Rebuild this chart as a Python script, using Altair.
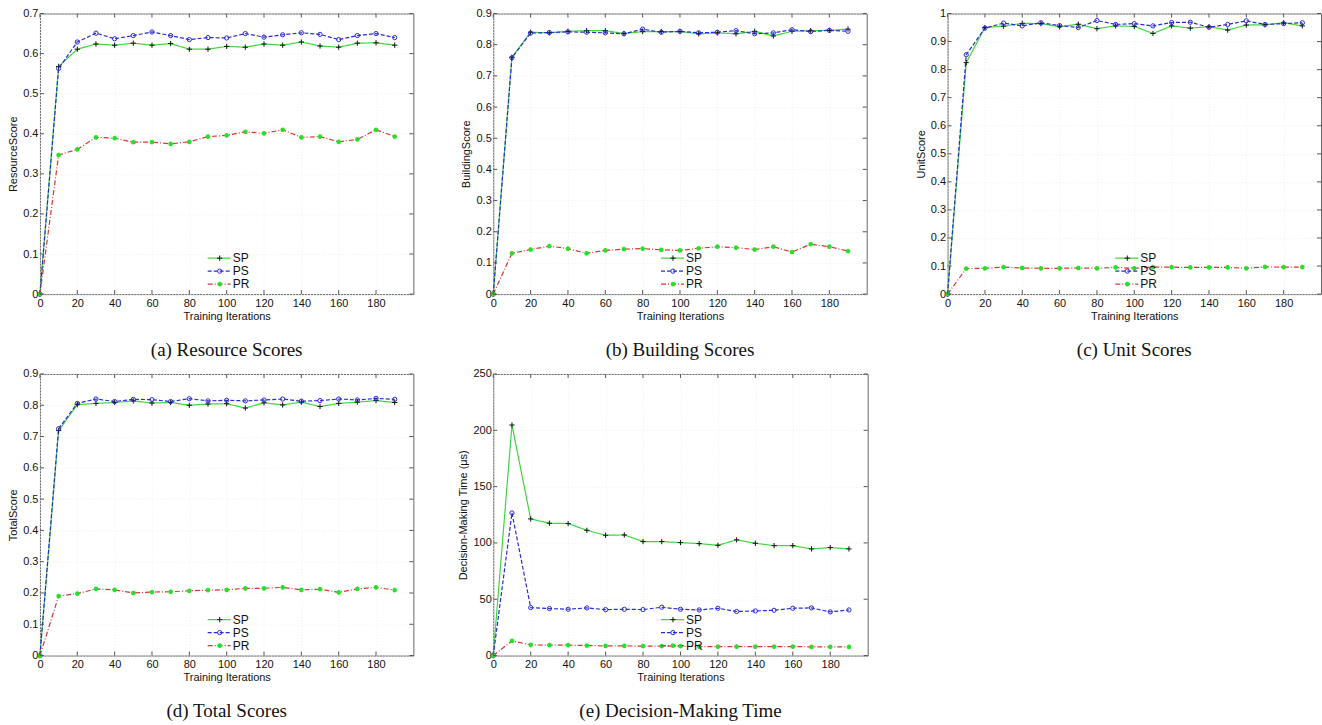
import altair as alt
import pandas as pd

iters = list(range(0, 200, 10))
x_ticks = list(range(0, 200, 20))

a_sp = [0, 0.568, 0.611, 0.624, 0.621, 0.626, 0.621, 0.625, 0.611, 0.611, 0.618, 0.616, 0.624, 0.621, 0.629, 0.619, 0.616, 0.626, 0.627, 0.621]
a_ps = [0, 0.563, 0.629, 0.651, 0.637, 0.645, 0.654, 0.645, 0.635, 0.640, 0.639, 0.650, 0.641, 0.647, 0.652, 0.648, 0.635, 0.645, 0.650, 0.640]
a_pr = [0, 0.347, 0.361, 0.391, 0.389, 0.379, 0.379, 0.375, 0.380, 0.393, 0.396, 0.405, 0.401, 0.410, 0.391, 0.393, 0.380, 0.386, 0.410, 0.393]

b_sp = [0, 0.760, 0.840, 0.838, 0.843, 0.845, 0.845, 0.836, 0.842, 0.842, 0.842, 0.835, 0.838, 0.835, 0.843, 0.828, 0.843, 0.845, 0.846, 0.850]
b_ps = [0, 0.758, 0.837, 0.839, 0.841, 0.840, 0.838, 0.835, 0.850, 0.840, 0.843, 0.838, 0.840, 0.845, 0.835, 0.838, 0.848, 0.842, 0.846, 0.843]
b_pr = [0, 0.131, 0.143, 0.154, 0.146, 0.131, 0.140, 0.144, 0.146, 0.142, 0.140, 0.147, 0.152, 0.149, 0.143, 0.152, 0.135, 0.160, 0.152, 0.138]

c_sp = [0, 0.825, 0.950, 0.955, 0.965, 0.964, 0.953, 0.962, 0.946, 0.956, 0.954, 0.929, 0.956, 0.948, 0.953, 0.941, 0.959, 0.960, 0.967, 0.956]
c_ps = [0, 0.853, 0.948, 0.966, 0.956, 0.967, 0.957, 0.950, 0.975, 0.961, 0.964, 0.956, 0.968, 0.969, 0.951, 0.961, 0.974, 0.961, 0.964, 0.967]
c_pr = [0, 0.091, 0.092, 0.096, 0.093, 0.092, 0.092, 0.093, 0.092, 0.095, 0.092, 0.096, 0.096, 0.095, 0.095, 0.095, 0.092, 0.097, 0.096, 0.096]

d_sp = [0, 0.719, 0.802, 0.806, 0.809, 0.814, 0.807, 0.809, 0.800, 0.804, 0.805, 0.791, 0.808, 0.801, 0.810, 0.796, 0.806, 0.810, 0.815, 0.809]
d_ps = [0, 0.725, 0.806, 0.820, 0.812, 0.819, 0.818, 0.812, 0.821, 0.814, 0.816, 0.814, 0.817, 0.820, 0.813, 0.815, 0.820, 0.817, 0.822, 0.819]
d_pr = [0, 0.190, 0.198, 0.213, 0.210, 0.200, 0.203, 0.204, 0.207, 0.209, 0.210, 0.215, 0.215, 0.218, 0.210, 0.212, 0.202, 0.213, 0.218, 0.209]

e_sp = [0, 204.7, 121.3, 117.5, 117.2, 111.2, 106.8, 107.1, 101.2, 101.2, 100.3, 99.4, 97.9, 102.7, 99.7, 97.6, 97.6, 94.7, 95.9, 94.7]
e_ps = [0, 126.6, 42.6, 41.7, 41.1, 42.3, 40.8, 41.1, 40.8, 42.9, 41.1, 40.5, 42.0, 39.1, 39.6, 40.2, 42.0, 42.3, 38.8, 40.5]
e_pr = [0, 13.0, 9.5, 9.2, 9.2, 8.9, 8.6, 8.6, 8.3, 8.3, 8.3, 8.0, 8.0, 8.0, 8.0, 8.0, 8.0, 7.7, 7.7, 7.7]

series_names = ["SP", "PS", "PR"]
score_ticks_07 = [0, 0.1, 0.2, 0.3, 0.4, 0.5, 0.6, 0.7]
score_ticks_09 = [0, 0.1, 0.2, 0.3, 0.4, 0.5, 0.6, 0.7, 0.8, 0.9]
score_ticks_10 = [0, 0.1, 0.2, 0.3, 0.4, 0.5, 0.6, 0.7, 0.8, 0.9, 1]
time_ticks = [0, 50, 100, 150, 200, 250]

LINE_COLOR = {"SP": "#3fd63f", "PS": "#2b2bd6", "PR": "#d93636"}
DASH = {"SP": [1, 0], "PS": [4, 2], "PR": [5, 2, 1, 2]}
PLUS = "M-1,0L1,0M0,-1L0,1"
STAR = "M-1,0L1,0M0,-1L0,1M-0.7,-0.7L0.7,0.7M-0.7,0.7L0.7,-0.7"
MARKER = {
    "SP": dict(shape=PLUS, color="#111111", size=28, strokeWidth=1),
    "PS": dict(shape="circle", color="#2b2bd6", size=18, strokeWidth=1),
    "PR": dict(shape=STAR, color="#25e025", size=22, strokeWidth=1.4),
}
FONT = "Liberation Sans"
GRID = "#eeeeee"


def panel(sp, ps, pr, ymax, yticks, yfmt, ytitle, caption, W, H, legend_top):
    df = pd.DataFrame({
        "iter": iters * 3,
        "series": [s for s in series_names for _ in iters],
        "value": sp + ps + pr,
    })
    xenc = alt.X("iter:Q", scale=alt.Scale(domain=[0, 200], nice=False, zero=False),
                 axis=alt.Axis(values=x_ticks, format="d", title="Training Iterations", ticks=False, domain=False,
                               grid=True, gridColor=GRID, gridDash=[1, 2],
                               labelFont=FONT, labelFontSize=11, labelColor="#111", labelPadding=3,
                               labelFlush=False, titleFont=FONT, titleFontSize=11,
                               titleFontWeight="normal", titleColor="#111", titlePadding=2))
    yenc = alt.Y("value:Q", scale=alt.Scale(domain=[0, ymax], nice=False, zero=False),
                 axis=alt.Axis(values=yticks, format=yfmt, title=ytitle, ticks=False, domain=False,
                               grid=True, gridColor=GRID, gridDash=[1, 2],
                               labelFont=FONT, labelFontSize=11, labelColor="#111", labelPadding=2,
                               labelFlush=False, titleFont=FONT, titleFontSize=11,
                               titleFontWeight="normal", titleColor="#111", titlePadding=4))
    layers = []
    for s in series_names:
        base = alt.Chart(df).transform_filter(alt.datum.series == s)
        layers.append(base.mark_line(color=LINE_COLOR[s], strokeDash=DASH[s], strokeWidth=1.2)
                      .encode(x=xenc, y=yenc))
    for s in series_names:
        base = alt.Chart(df).transform_filter(alt.datum.series == s)
        m = MARKER[s]
        layers.append(base.mark_point(shape=m["shape"], color=m["color"], size=m["size"],
                                      strokeWidth=m["strokeWidth"], filled=False, opacity=1)
                      .encode(x=xenc, y=yenc))
    # inside ticks (MATLAB style)
    tx = pd.DataFrame({"iter": x_ticks})
    ty = pd.DataFrame({"value": yticks})
    tick_style = dict(color="#555", strokeWidth=1)
    layers.append(alt.Chart(tx).mark_rule(**tick_style).encode(x=xenc, y=alt.value(H), y2=alt.value(H - 4)))
    layers.append(alt.Chart(tx).mark_rule(**tick_style).encode(x=xenc, y=alt.value(0), y2=alt.value(4)))
    layers.append(alt.Chart(ty).mark_rule(**tick_style).encode(y=yenc, x=alt.value(0), x2=alt.value(4)))
    layers.append(alt.Chart(ty).mark_rule(**tick_style).encode(y=yenc, x=alt.value(W), x2=alt.value(W - 4)))
    # legend
    for i, s in enumerate(series_names):
        ry = legend_top + 13 * i
        ld = pd.DataFrame({"label": [s]})
        m = MARKER[s]
        layers.append(alt.Chart(ld).mark_rule(color=LINE_COLOR[s], strokeDash=DASH[s], strokeWidth=1.4 if s == "SP" else 1.2)
                      .encode(x=alt.value(168), x2=alt.value(191), y=alt.value(ry)))
        layers.append(alt.Chart(ld).mark_point(shape=m["shape"], color=m["color"], size=m["size"],
                                               strokeWidth=m["strokeWidth"], filled=False, opacity=1)
                      .encode(x=alt.value(180), y=alt.value(ry)))
        layers.append(alt.Chart(ld).mark_text(align="left", baseline="middle", font=FONT, fontSize=12, color="#111")
                      .encode(x=alt.value(193), y=alt.value(ry), text="label:N"))
    return alt.layer(*layers).properties(
        width=W, height=H,
        title=alt.TitleParams(caption, orient="bottom", anchor="middle", font="Liberation Serif",
                              fontSize=19, fontWeight="normal", color="#111", offset=20),
    )


pa = panel(a_sp, a_ps, a_pr, 0.7, score_ticks_07, "~r", "ResourceScore", "(a) Resource Scores", 374, 281, 245)
pb = panel(b_sp, b_ps, b_pr, 0.9, score_ticks_09, "~r", "BuildingScore", "(b) Building Scores", 374, 281, 245)
pc = panel(c_sp, c_ps, c_pr, 1.0, score_ticks_10, "~r", "UnitScore", "(c) Unit Scores", 374, 281, 245)
pd_ = panel(d_sp, d_ps, d_pr, 0.9, score_ticks_09, "~r", "TotalScore", "(d) Total Scores", 374, 282, 246)
pe = panel(e_sp, e_ps, e_pr, 250, time_ticks, "d", "Decision-Making Time (\u03bcs)", "(e) Decision-Making Time", 375, 282, 246)

chart = alt.concat(pa, pb, pc, pd_, pe, columns=3, spacing=80, bounds="flush").properties(
    padding={"left": 7, "top": 6, "right": 0, "bottom": 0}, background="white"
).configure_view(stroke="#666", strokeWidth=1)

chart.save("out.html", embed_options={"renderer": "svg", "actions": False})
